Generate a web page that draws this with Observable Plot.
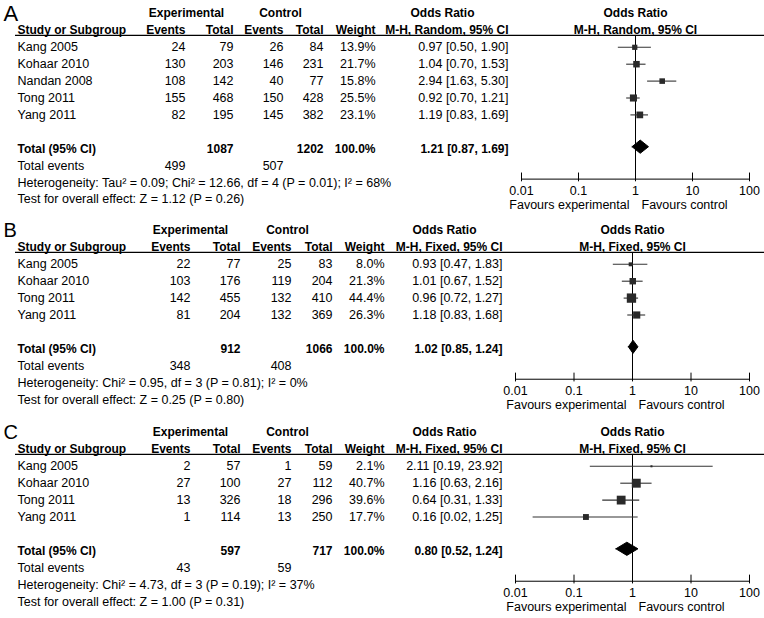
<!DOCTYPE html>
<html><head><meta charset="utf-8">
<script src="https://cdn.jsdelivr.net/npm/d3@7"></script>
<script src="https://cdn.jsdelivr.net/npm/@observablehq/plot@0.6"></script>
<style>
body{margin:0;background:#fff;}
#chart{width:764px;}
#chart svg{display:block;}
</style></head><body><div id="chart"></div>
<script>
// ---------- shared ----------
const tickValues = [0.01, 0.1, 1, 10, 100];
const tickLabels = ["0.01", "0.1", "1", "10", "100"];
const favourLabels = ["Favours experimental", "Favours control"];

// ---------- Panel A ----------
const studiesA = ["Kang 2005", "Kohaar 2010", "Nandan 2008", "Tong 2011", "Yang 2011"];
const expEventsA = [24, 130, 108, 155, 82];
const expTotalA = [79, 203, 142, 468, 195];
const ctlEventsA = [26, 146, 40, 150, 145];
const ctlTotalA = [84, 231, 77, 428, 382];
const weightA = [13.9, 21.7, 15.8, 25.5, 23.1];
const orA = [0.97, 1.04, 2.94, 0.92, 1.19];
const loA = [0.50, 0.70, 1.63, 0.70, 0.83];
const hiA = [1.90, 1.53, 5.30, 1.21, 1.69];
const totalNA = [1087, 1202];
const totalEventsA = [499, 507];
const pooledA = [1.21, 0.87, 1.69];
const hetA = "Heterogeneity: Tau\u00B2 = 0.09; Chi\u00B2 = 12.66, df = 4 (P = 0.01); I\u00B2 = 68%";
const testA = "Test for overall effect: Z = 1.12 (P = 0.26)";
const methodA = "M-H, Random, 95% CI";

// ---------- Panel B ----------
const studiesB = ["Kang 2005", "Kohaar 2010", "Tong 2011", "Yang 2011"];
const expEventsB = [22, 103, 142, 81];
const expTotalB = [77, 176, 455, 204];
const ctlEventsB = [25, 119, 132, 132];
const ctlTotalB = [83, 204, 410, 369];
const weightB = [8.0, 21.3, 44.4, 26.3];
const orB = [0.93, 1.01, 0.96, 1.18];
const loB = [0.47, 0.67, 0.72, 0.83];
const hiB = [1.83, 1.52, 1.27, 1.68];
const totalNB = [912, 1066];
const totalEventsB = [348, 408];
const pooledB = [1.02, 0.85, 1.24];
const hetB = "Heterogeneity: Chi\u00B2 = 0.95, df = 3 (P = 0.81); I\u00B2 = 0%";
const testB = "Test for overall effect: Z = 0.25 (P = 0.80)";
const methodB = "M-H, Fixed, 95% CI";

// ---------- Panel C ----------
const studiesC = ["Kang 2005", "Kohaar 2010", "Tong 2011", "Yang 2011"];
const expEventsC = [2, 27, 13, 1];
const expTotalC = [57, 100, 326, 114];
const ctlEventsC = [1, 27, 18, 13];
const ctlTotalC = [59, 112, 296, 250];
const weightC = [2.1, 40.7, 39.6, 17.7];
const orC = [2.11, 1.16, 0.64, 0.16];
const loC = [0.19, 0.63, 0.31, 0.02];
const hiC = [23.92, 2.16, 1.33, 1.25];
const totalNC = [597, 717];
const totalEventsC = [43, 59];
const pooledC = [0.80, 0.52, 1.24];
const hetC = "Heterogeneity: Chi\u00B2 = 4.73, df = 3 (P = 0.19); I\u00B2 = 37%";
const testC = "Test for overall effect: Z = 1.00 (P = 0.31)";
const methodC = "M-H, Fixed, 95% CI";

const totalWeightLabel = "100.0%";

const W = 764;
const FONT = "Arial, 'Liberation Sans', sans-serif";

function panel(p) {
  const n = p.studies.length;
  const rows = p.studies.map((s, i) => ({
    row: i + 2, study: s, ee: p.ee[i], et: p.et[i], ce: p.ce[i], ct: p.ct[i],
    w: p.w[i], or: p.or[i], lo: p.lo[i], hi: p.hi[i]
  }));
  const totalRow = n + 3, evRow = n + 4, hetRow = n + 5, testRow = n + 6;
  const axisRow = evRow + 0.8;
  const lineRow = 1.3;
  const ml = p.x0, mr = W - p.x1;
  const c = p.cols;
  const dx = px => px - ml;
  const fmtCI = (o, l, h) => `${o.toFixed(2)} [${l.toFixed(2)}, ${h.toFixed(2)}]`;
  const T = (data, o) => Plot.text(data, {frameAnchor: "left", lineAnchor: "middle", fill: "#000", ...o});
  const B = (data, o) => T(data, {fontWeight: "bold", fontSize: 12, ...o});
  const rowH = 16.9, top = 13;
  const [po, pl, ph] = p.pooled;
  const diamond = [
    {x: pl, y: totalRow}, {x: po, y: totalRow - 0.39}, {x: ph, y: totalRow},
    {x: po, y: totalRow + 0.39}, {x: pl, y: totalRow}
  ];
  return Plot.plot({
    width: W, height: p.height,
    marginLeft: ml, marginRight: mr, marginTop: 0, marginBottom: 0,
    style: {fontFamily: FONT, fontSize: "12.5px", background: "#fff"},
    x: {type: "log", domain: [tickValues[0], tickValues[tickValues.length - 1]], axis: null},
    y: {type: "linear", domain: [0, 12], range: [top, top + 12 * rowH], axis: null},
    r: {type: "sqrt", domain: [0, 100], range: [0, 7.9]},
    marks: [
      // panel letter
      T([p.letter], {y: 0, dy: p.letterDy, dx: dx(3), textAnchor: "start", fontSize: p.letterSize}),
      // header row 1
      B(["Experimental"], {y: 0, dx: dx(c.expC), textAnchor: "middle"}),
      B(["Control"], {y: 0, dx: dx(c.ctlC), textAnchor: "middle"}),
      B(["Odds Ratio"], {y: 0, dx: dx(c.orC), textAnchor: "middle"}),
      Plot.text(["Odds Ratio"], {x: 1, y: 0, fontWeight: "bold", fontSize: 12, textAnchor: "middle"}),
      // header row 2
      B(["Study or Subgroup"], {y: 1, dx: dx(c.study), textAnchor: "start"}),
      B(["Events"], {y: 1, dx: dx(c.ee), textAnchor: "end"}),
      B(["Total"], {y: 1, dx: dx(c.et), textAnchor: "end"}),
      B(["Events"], {y: 1, dx: dx(c.ce), textAnchor: "end"}),
      B(["Total"], {y: 1, dx: dx(c.ct), textAnchor: "end"}),
      B(["Weight"], {y: 1, dx: dx(c.w), textAnchor: "end"}),
      B([p.method], {y: 1, dx: dx(c.ci), textAnchor: "end"}),
      Plot.text([p.method], {x: 1, y: 1, fontWeight: "bold", fontSize: 12, textAnchor: "middle"}),
      // header rule
      Plot.ruleY([lineRow], {stroke: "#000", strokeWidth: 1.2, insetLeft: -(ml - c.study + 2), insetRight: -mr}),
      // study rows
      T(rows, {y: "row", text: "study", dx: dx(c.study), textAnchor: "start"}),
      T(rows, {y: "row", text: d => String(d.ee), dx: dx(c.ee), textAnchor: "end"}),
      T(rows, {y: "row", text: d => String(d.et), dx: dx(c.et), textAnchor: "end"}),
      T(rows, {y: "row", text: d => String(d.ce), dx: dx(c.ce), textAnchor: "end"}),
      T(rows, {y: "row", text: d => String(d.ct), dx: dx(c.ct), textAnchor: "end"}),
      T(rows, {y: "row", text: d => d.w.toFixed(1) + "%", dx: dx(c.w), textAnchor: "end"}),
      T(rows, {y: "row", text: d => fmtCI(d.or, d.lo, d.hi), dx: dx(c.ci), textAnchor: "end"}),
      // total row
      B(["Total (95% CI)"], {y: totalRow, dx: dx(c.study), textAnchor: "start"}),
      B([String(p.totN[0])], {y: totalRow, dx: dx(c.et), textAnchor: "end"}),
      B([String(p.totN[1])], {y: totalRow, dx: dx(c.ct), textAnchor: "end"}),
      B([totalWeightLabel], {y: totalRow, dx: dx(c.w), textAnchor: "end"}),
      B([fmtCI(po, pl, ph)], {y: totalRow, dx: dx(c.ci), textAnchor: "end"}),
      // total events
      T(["Total events"], {y: evRow, dx: dx(c.study), textAnchor: "start"}),
      T([String(p.totEv[0])], {y: evRow, dx: dx(c.ee), textAnchor: "end"}),
      T([String(p.totEv[1])], {y: evRow, dx: dx(c.ce), textAnchor: "end"}),
      // heterogeneity / test
      T([p.het], {y: hetRow, dx: dx(c.study), textAnchor: "start"}),
      T([p.test], {y: testRow, dx: dx(c.study), textAnchor: "start"}),
      // forest: null line
      Plot.ruleX([1], {y1: lineRow, y2: axisRow, stroke: "#000", strokeWidth: 1}),
      // CIs and squares
      Plot.ruleY(rows, {y: "row", x1: "lo", x2: "hi", stroke: "#333", strokeWidth: 1.1}),
      Plot.dot(rows, {x: "or", y: "row", r: "w", symbol: "square", fill: "#2a2a2a", stroke: "none"}),
      // pooled diamond
      Plot.line(diamond, {x: "x", y: "y", fill: "#000", stroke: "#000", strokeWidth: 1, dy: -2, curve: "linear"}),
      // axis
      Plot.ruleY([axisRow], {x1: tickValues[0], x2: tickValues[tickValues.length - 1], stroke: "#000", strokeWidth: 1}),
      Plot.ruleX(tickValues, {x: d => d, y1: axisRow - 0.36, y2: axisRow + 0.16, stroke: "#000", strokeWidth: 1}),
      Plot.text(tickValues, {x: d => d, y: axisRow, dy: 12, text: (d, i) => tickLabels[i], textAnchor: "middle", fill: "#000"}),
      Plot.text([favourLabels[0]], {x: 1, y: axisRow, dy: 26, dx: -6, textAnchor: "end", fill: "#000"}),
      Plot.text([favourLabels[1]], {x: 1, y: axisRow, dy: 26, dx: 6, textAnchor: "start", fill: "#000"})
    ]
  });
}

const colsA = {study: 17, ee: 185, et: 233, ce: 283, ct: 323, w: 375, ci: 508, expC: 186, ctlC: 280, orC: 442};
const colsBC = {study: 17, ee: 190, et: 240, ce: 291, ct: 332, w: 384, ci: 502, expC: 190, ctlC: 287, orC: 444};

const chart = document.getElementById("chart");
chart.append(panel({
  letter: "A", letterSize: 22, letterDy: 0, height: 217, x0: 521, x1: 749, cols: colsA,
  studies: studiesA, ee: expEventsA, et: expTotalA, ce: ctlEventsA, ct: ctlTotalA,
  w: weightA, or: orA, lo: loA, hi: hiA, totN: totalNA, totEv: totalEventsA,
  pooled: pooledA, het: hetA, test: testA, method: methodA
}));
chart.append(panel({
  letter: "B", letterSize: 20, letterDy: 0, height: 202, x0: 515, x1: 749, cols: colsBC,
  studies: studiesB, ee: expEventsB, et: expTotalB, ce: ctlEventsB, ct: ctlTotalB,
  w: weightB, or: orB, lo: loB, hi: hiB, totN: totalNB, totEv: totalEventsB,
  pooled: pooledB, het: hetB, test: testB, method: methodB
}));
chart.append(panel({
  letter: "C", letterSize: 20, letterDy: 0, height: 199, x0: 515, x1: 749, cols: colsBC,
  studies: studiesC, ee: expEventsC, et: expTotalC, ce: ctlEventsC, ct: ctlTotalC,
  w: weightC, or: orC, lo: loC, hi: hiC, totN: totalNC, totEv: totalEventsC,
  pooled: pooledC, het: hetC, test: testC, method: methodC
}));
</script>
</body></html>
